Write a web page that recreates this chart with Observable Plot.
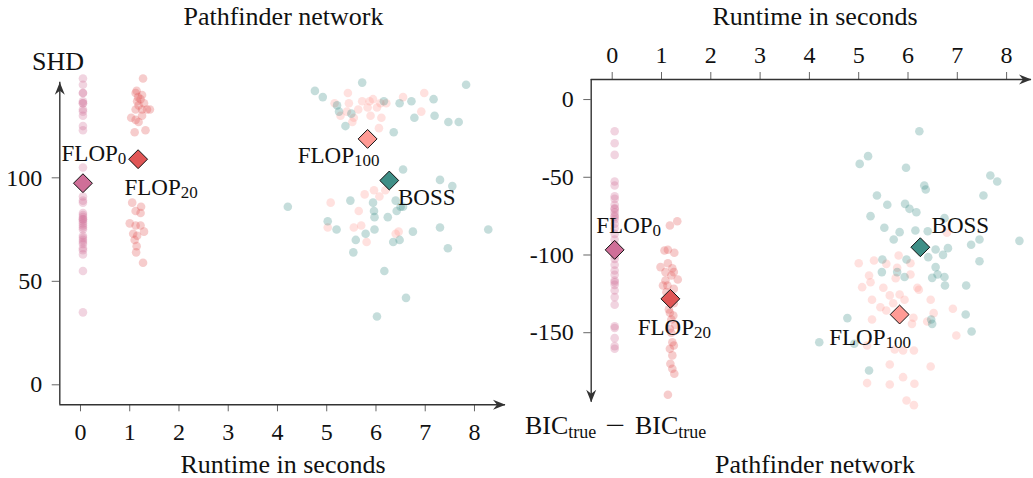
<!DOCTYPE html>
<html><head><meta charset="utf-8">
<script src="https://cdn.jsdelivr.net/npm/d3@7"></script>
<script src="https://cdn.jsdelivr.net/npm/@observablehq/plot@0.6"></script>
<style>
body{margin:0;background:#fff;}
#wrap{position:relative;width:1033px;height:478px;font-family:"Liberation Serif",serif;color:#111;overflow:hidden;}
#wrap svg{position:absolute;top:0;}
.lbl{position:absolute;font-size:26px;white-space:nowrap;line-height:0.9;transform:translate(-50%,-50%);}
.lbl sub{font-size:18px;vertical-align:-4px;line-height:0;}
.lbl .m{display:inline-block;margin:0 12px;transform:scaleX(1.35);}
g[aria-label$="axis tick"]{stroke:#666;}
</style></head><body><div id="wrap"></div>
<script>
// ---------- data ----------
const methods = ["FLOP0", "FLOP20", "FLOP100", "BOSS"];
const methodColors = ["#cf6f98", "#e05656", "#ff9b95", "#3f8f87"];
const ticksRuntime = [0, 1, 2, 3, 4, 5, 6, 7, 8];
const ticksSHD = [0, 50, 100];
const ticksBIC = [0, -50, -100, -150];

// Left panel: runtime vs SHD
const leftFlop0Runtime = [0.05,0.05,0.05,0.05,0.05,0.05,0.05,0.05,0.05,0.05,0.05,0.05,0.05,0.05,0.05,0.05,0.05,0.05,0.05,0.05,0.05,0.05,0.05,0.05,0.05,0.05,0.05,0.05,0.05,0.05,0.05,0.05,0.05,0.05,0.05,0.05];
const leftFlop0SHD = [148,145,141,141,137,136,136,133,132,130,125,123,105,91,89,88,83,82,81,80,80,79,78,77,76,75,72,71,70,69,68,66,65,63,55,35];
const leftFlop20Runtime = [1.27,1.14,1.12,1.25,1.17,1.22,1.15,1.29,1.18,1.41,1.12,1.25,1.35,1.03,1.12,1.25,1.18,1.32,1.10,1.05,1.23,1.12,1.22,1.00,1.12,1.22,1.29,1.07,1.15,1.10,1.14,1.13,1.27];
const leftFlop20SHD = [148,142,141,140,139,138,137,136,135,133,133,133,133,129,128,130,127,123,122,88,86,84,83,78,77,77,74,73,72,70,67,64,59];
const leftFlop100Runtime = [5.16,5.43,5.45,5.72,5.87,5.94,5.83,5.64,6.09,6.21,6.02,5.28,5.55,5.52,5.89,6.11,6.06,6.55,6.98,6.92,5.41,5.08,5.77,5.96,6.07,6.19,5.65,5.70,5.55,5.02,5.81,6.40,6.46];
const leftFlop100SHD = [136,141,136,137,137,138,134,133,136,136,134,130,129,127,130,129,124,139,141,132,132,88,92,94,91,94,84,77,76,76,69,73,74];
const leftBossRuntime = [4.76,4.92,5.72,5.21,5.25,5.50,5.38,6.16,6.48,6.72,7.17,6.78,7.19,7.47,7.68,6.36,7.83,6.55,7.30,7.55,5.48,4.21,5.94,5.96,5.97,6.24,6.42,6.50,6.40,6.55,5.02,5.20,5.97,5.79,5.59,6.35,6.48,6.75,7.30,7.46,5.54,6.17,6.61,6.02,8.28];
const leftBossSHD = [142,139,146,135,132,131,125,137,136,137,138,129,130,127,127,122,145,104,99,96,89,86,88,84,81,81,84,86,89,86,79,75,75,73,70,69,70,74,76,66,64,55,42,33,75];
const leftMeanRuntime = [0.05, 1.17, 5.83, 6.27];
const leftMeanSHD = [97.4, 109.0, 118.8, 98.7];

// Right panel: runtime vs BIC difference
const rightFlop0Runtime = [0.05,0.05,0.05,0.05,0.05,0.05,0.05,0.05,0.05,0.05,0.05,0.05,0.05,0.05,0.05,0.05,0.05,0.05,0.05,0.05,0.05,0.05,0.05,0.05,0.05,0.05,0.05,0.05,0.05,0.05,0.05,0.05,0.05,0.05,0.05];
const rightFlop0BIC = [-20.4,-28.1,-35.6,-52.7,-55.3,-62.2,-63.9,-67.7,-69.9,-70.5,-72.5,-74.6,-75.5,-77.2,-79.9,-82.8,-86.4,-90.0,-93.5,-100.5,-102.5,-106.3,-110,-112.7,-116.4,-117.5,-119.2,-122.8,-127.1,-132.0,-145.8,-147,-153.5,-158.6,-160.3];
const rightFlop20Runtime = [1.32,1.17,1.06,1.13,1.26,0.98,1.13,1.22,1.08,1.25,1.33,1.08,1.20,1.12,1.25,1.10,1.03,1.17,1.24,1.20,1.17,1.22,1.25,1.17,1.22,1.18,1.22,1.26,1.13,1.25,1.15,1.28,1.20];
const rightFlop20BIC = [-78.3,-81.0,-97.1,-96.6,-98.6,-107.8,-105.3,-108.5,-111.0,-111.0,-115.8,-116.4,-113.2,-119.6,-121.8,-123.9,-119.6,-137.2,-138.9,-141.5,-147.5,-156.1,-158.2,-160.3,-164.6,-170.0,-173.2,-176.4,-189.9,-131,-135,-145,-150];
const rightFlop100Runtime = [5.00,5.31,5.56,5.81,6.05,5.21,5.24,5.07,5.50,5.63,5.83,5.93,6.19,6.22,6.46,5.27,5.44,5.70,5.56,5.27,6.11,6.08,6.39,6.52,6.91,6.98,5.17,5.73,5.90,6.12,5.63,6.46,5.90,5.17,5.63,6.13,5.97,6.12,5.78,5.75,6.05,6.79];
const rightFlop100BIC = [-105.3,-103.5,-105.7,-100.3,-105.3,-113.2,-117.5,-120.7,-121.1,-126.0,-125.4,-128.8,-121.1,-122.4,-128.8,-128.8,-133.6,-131.0,-135.7,-141.5,-140.4,-144.3,-142.8,-137.4,-134.6,-151.8,-158.2,-160.8,-161.4,-161.4,-170.4,-171.7,-178.6,-182.4,-183.3,-182.8,-193.6,-196.6,-108.2,-114.9,-112.5,-85.7];
const rightBossRuntime = [6.23,5.19,5.02,5.96,7.67,7.81,6.33,6.36,5.37,5.58,5.94,6.03,6.17,7.53,5.24,6.74,5.52,5.83,6.15,6.40,5.71,7.28,7.45,8.26,6.56,6.81,6.71,6.41,5.97,5.48,7.45,5.47,5.78,5.93,6.56,6.49,6.60,6.74,6.75,7.18,7.17,7.29,4.77,4.20,4.91,5.21,6.49,6.47];
const rightBossBIC = [-20.4,-36.4,-41.4,-43.9,-48.9,-52.7,-55.3,-57.9,-61.7,-67.7,-67.1,-70.3,-72.5,-61.7,-75.0,-76.3,-82.5,-85.3,-84.2,-84.7,-90.0,-93.4,-90.0,-90.9,-96.5,-95.6,-99.9,-101.4,-102.9,-102.9,-104.0,-111.0,-111.0,-114.2,-107.8,-114.7,-112.5,-114.2,-119.6,-119.6,-138.3,-149.2,-140.6,-156.1,-157.1,-174.3,-144.3,-141.5];
const rightMeanRuntime = [0.05, 1.18, 5.83, 6.25];
const rightMeanBIC = [-96.7, -128.2, -138.3, -95.0];

// ---------- layout ----------
const leftX = [-0.42, 8.63], leftY = [-9.66, 146.2];
const rightX = [-0.426, 8.505], rightY = [-194.7, 12.9];
const leftLabelOffsets = {FLOP0: [11, -30], FLOP20: [23, 28], FLOP100: [-29, 17], BOSS: [37.5, 17]};
const rightLabelOffsets = {FLOP0: [14, -24], FLOP20: [4, 28.5], FLOP100: [-29.5, 23], BOSS: [40, -22]};

const rows = (method, xs, ys) => xs.map((x, i) => ({method, x, y: ys[i]}));
const leftPoints = [
  ...rows("FLOP0", leftFlop0Runtime, leftFlop0SHD),
  ...rows("FLOP20", leftFlop20Runtime, leftFlop20SHD),
  ...rows("FLOP100", leftFlop100Runtime, leftFlop100SHD),
  ...rows("BOSS", leftBossRuntime, leftBossSHD)
];
const rightPoints = [
  ...rows("FLOP0", rightFlop0Runtime, rightFlop0BIC),
  ...rows("FLOP20", rightFlop20Runtime, rightFlop20BIC),
  ...rows("FLOP100", rightFlop100Runtime, rightFlop100BIC),
  ...rows("BOSS", rightBossRuntime, rightBossBIC)
];
const leftMeans = methods.map((m, i) => ({method: m, x: leftMeanRuntime[i], y: leftMeanSHD[i]}));
const rightMeans = methods.map((m, i) => ({method: m, x: rightMeanRuntime[i], y: rightMeanBIC[i]}));

// stealth arrowheads (tip at the anchor point)
const L = 12.5, W = 5, B = 8.5;
const arrowRight = {draw(c){c.moveTo(0,0);c.lineTo(-L,-W);c.lineTo(-B,0);c.lineTo(-L,W);c.closePath();}};
const arrowUp = {draw(c){c.moveTo(0,0);c.lineTo(-W,L);c.lineTo(0,B);c.lineTo(W,L);c.closePath();}};
const arrowDown = {draw(c){c.moveTo(0,0);c.lineTo(-W,-L);c.lineTo(0,-B);c.lineTo(W,-L);c.closePath();}};

const style = {fontFamily: "Liberation Serif, serif", fontSize: "24px", background: "transparent", overflow: "visible", color: "#111"};
const labelMarks = (means, offsets) => methods.map(m => Plot.text(means.filter(d => d.method === m), {
  x: "x", y: "y", text: "method", dx: offsets[m][0], dy: offsets[m][1], fontSize: 23, fill: "#111"
}));
const fmt = d => d < 0 ? "-" + Math.abs(d) : String(d);

const left = Plot.plot({
  width: 520, height: 478,
  marginLeft: 59.3, marginRight: 15, marginTop: 81.7, marginBottom: 73.7,
  style,
  x: {domain: leftX, ticks: ticksRuntime, tickSize: 7, tickPadding: 11, label: null},
  y: {domain: leftY, ticks: ticksSHD, tickSize: 7.6, tickPadding: 10, label: null},
  color: {domain: methods, range: methodColors},
  marks: [
    Plot.dot(leftPoints, {x: "x", y: "y", r: 4.3, fill: "method", fillOpacity: 0.3}),
    Plot.ruleY([leftY[0]], {stroke: "#333", strokeWidth: 1.4}),
    Plot.ruleX([leftX[0]], {stroke: "#333", strokeWidth: 1.4}),
    Plot.dot([leftX[1]], {x: d => d, y: () => leftY[0], symbol: arrowRight, fill: "#333", stroke: "none"}),
    Plot.dot([leftY[1]], {x: () => leftX[0], y: d => d, symbol: arrowUp, fill: "#333", stroke: "none"}),
    Plot.dot(leftMeans, {x: "x", y: "y", symbol: "diamond2", r: 8.5, fill: "method", stroke: "#111", strokeWidth: 1}),
    ...labelMarks(leftMeans, leftLabelOffsets)
  ]
});

const right = Plot.plot({
  width: 513, height: 478,
  marginLeft: 70.7, marginRight: 2, marginTop: 79, marginBottom: 76.3,
  style,
  x: {domain: rightX, axis: "top", ticks: ticksRuntime, tickSize: 8, tickPadding: 9, label: null},
  y: {domain: rightY, ticks: ticksBIC, tickSize: 7.4, tickPadding: 10, tickFormat: fmt, label: null},
  color: {domain: methods, range: methodColors},
  marks: [
    Plot.dot(rightPoints, {x: "x", y: "y", r: 4.3, fill: "method", fillOpacity: 0.3}),
    Plot.ruleY([rightY[1]], {stroke: "#333", strokeWidth: 1.4}),
    Plot.ruleX([rightX[0]], {stroke: "#333", strokeWidth: 1.4}),
    Plot.dot([rightX[1]], {x: d => d, y: () => rightY[1], symbol: arrowRight, fill: "#333", stroke: "none"}),
    Plot.dot([rightY[0]], {x: () => rightX[0], y: d => d, symbol: arrowDown, fill: "#333", stroke: "none"}),
    Plot.dot(rightMeans, {x: "x", y: "y", symbol: "diamond2", r: 8.5, fill: "method", stroke: "#111", strokeWidth: 1}),
    ...labelMarks(rightMeans, rightLabelOffsets)
  ]
});

function subscripts(svg) {
  svg.querySelectorAll("text").forEach(t => {
    const m = /^FLOP(\d+)$/.exec(t.textContent);
    if (m) {
      t.textContent = "FLOP";
      const s = document.createElementNS("http://www.w3.org/2000/svg", "tspan");
      s.setAttribute("font-size", "17");
      s.setAttribute("dy", "3");
      s.textContent = m[1];
      t.appendChild(s);
    }
  });
}
subscripts(left); subscripts(right);

const wrap = document.getElementById("wrap");
left.style.left = "0px";
right.style.left = "520px";
wrap.appendChild(left);
wrap.appendChild(right);

const labels = [
  {html: "Pathfinder network", x: 283.5, y: 17},
  {html: "SHD", x: 58, y: 62},
  {html: "Runtime in seconds", x: 283, y: 465},
  {html: "Runtime in seconds", x: 815, y: 17},
  {html: "Pathfinder network", x: 815, y: 465}
];
for (const l of labels) {
  const d = document.createElement("div");
  d.className = "lbl";
  d.style.left = l.x + "px"; d.style.top = l.y + "px";
  d.innerHTML = l.html;
  wrap.appendChild(d);
}
const bic = document.createElement("div");
bic.className = "lbl";
bic.style.left = "525px"; bic.style.top = "426px"; bic.style.transform = "translate(0,-50%)";
bic.innerHTML = 'BIC<sub>true</sub><span class="m">−</span>BIC<sub>true</sub>';
wrap.appendChild(bic);
</script>
</body></html>
